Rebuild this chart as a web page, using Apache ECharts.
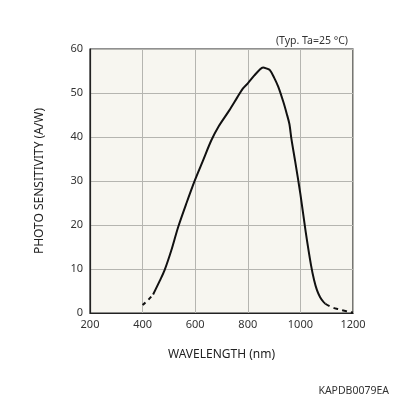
<!DOCTYPE html>
<html>
<head>
<meta charset="utf-8">
<script src="https://cdn.jsdelivr.net/npm/echarts@6/dist/echarts.min.js"></script>
<style>
  html, body { margin: 0; padding: 0; background: #fff; }
  #chart { width: 396px; height: 396px; }
</style>
</head>
<body>
<div id="chart"></div>
<script>
// wavelength (nm) / photo sensitivity (A/W)
const headWave = [400, 420, 440]
const headSens = [1.8, 2.9, 4.2]

const mainWave = [440, 466, 484, 509, 535, 567, 599, 630, 661, 690, 729, 760, 781, 800, 825, 845, 858, 870, 884, 900, 916, 935, 948, 958, 966, 980, 1000, 1020, 1040, 1052, 1063, 1075, 1088, 1095]
const mainSens = [4.2, 7.4, 9.8, 14.2, 19.5, 25.0, 30.2, 34.7, 39.2, 42.5, 46.0, 49.0, 51.0, 52.2, 54.0, 55.3, 55.8, 55.6, 55.2, 53.5, 51.4, 48.0, 45.3, 43.0, 39.5, 34.5, 27.0, 18.5, 11.0, 7.5, 5.2, 3.6, 2.5, 2.1]

const tailWave = [1095, 1120, 1150, 1175, 1200]
const tailSens = [2.1, 1.3, 0.8, 0.4, 0.1]

const xTicks = [200, 1200, 200]   // min, max, step
const yTicks = [0, 60, 10]

const pair = (xs, ys) => xs.map((x, i) => [x, ys[i]])

const chart = echarts.init(document.getElementById('chart'), null, { renderer: 'canvas' })

const font = 'Noto Sans'
const lineStyle = { color: '#111', width: 2 }

chart.setOption({
  animation: false,
  backgroundColor: '#fff',
  title: [
    {
      text: '(Typ. Ta=25 °C)',
      right: 43, top: 31,
      textStyle: { fontFamily: font, fontSize: 10.5, fontWeight: 'normal', color: '#333' }
    },
    {
      text: 'KAPDB0079EA',
      right: 2, top: 381,
      textStyle: { fontFamily: font, fontSize: 10.5, fontWeight: 'normal', color: '#333' }
    }
  ],
  grid: {
    left: 90, right: 43, top: 49, bottom: 83,
    show: true,
    backgroundColor: '#f7f6f0',
    borderColor: '#222',
    borderWidth: 1.2
  },
  xAxis: {
    type: 'value',
    min: xTicks[0], max: xTicks[1], interval: xTicks[2],
    name: 'WAVELENGTH (nm)',
    nameLocation: 'middle',
    nameGap: 36,
    nameTextStyle: { fontFamily: font, fontSize: 12, color: '#222' },
    axisLine: { show: true, lineStyle: { color: '#222', width: 1.2 } },
    axisTick: { show: false },
    axisLabel: { fontFamily: font, fontSize: 11, color: '#333', margin: 6, formatter: v => String(v) },
    splitLine: { show: true, lineStyle: { color: '#b5b5b0', width: 1 } }
  },
  yAxis: {
    type: 'value',
    min: yTicks[0], max: yTicks[1], interval: yTicks[2],
    name: 'PHOTO SENSITIVITY (A/W)',
    nameLocation: 'middle',
    nameGap: 44,
    nameRotate: 90,
    nameTextStyle: { fontFamily: font, fontSize: 12, color: '#222' },
    axisLine: { show: true, lineStyle: { color: '#222', width: 1.2 } },
    axisTick: { show: false },
    axisLabel: { fontFamily: font, fontSize: 11, color: '#333', margin: 7 },
    splitLine: { show: true, lineStyle: { color: '#b5b5b0', width: 1 } }
  },
  series: [
    {
      type: 'line', data: pair(headWave, headSens), showSymbol: false, smooth: true,
      lineStyle: Object.assign({}, lineStyle, { type: [4, 4] })
    },
    {
      type: 'line', data: pair(mainWave, mainSens), showSymbol: false, smooth: 0.3,
      lineStyle: lineStyle
    },
    {
      type: 'line', data: pair(tailWave, tailSens), showSymbol: false, smooth: true,
      lineStyle: Object.assign({}, lineStyle, { type: [5, 4] })
    }
  ]
})
</script>
</body>
</html>
